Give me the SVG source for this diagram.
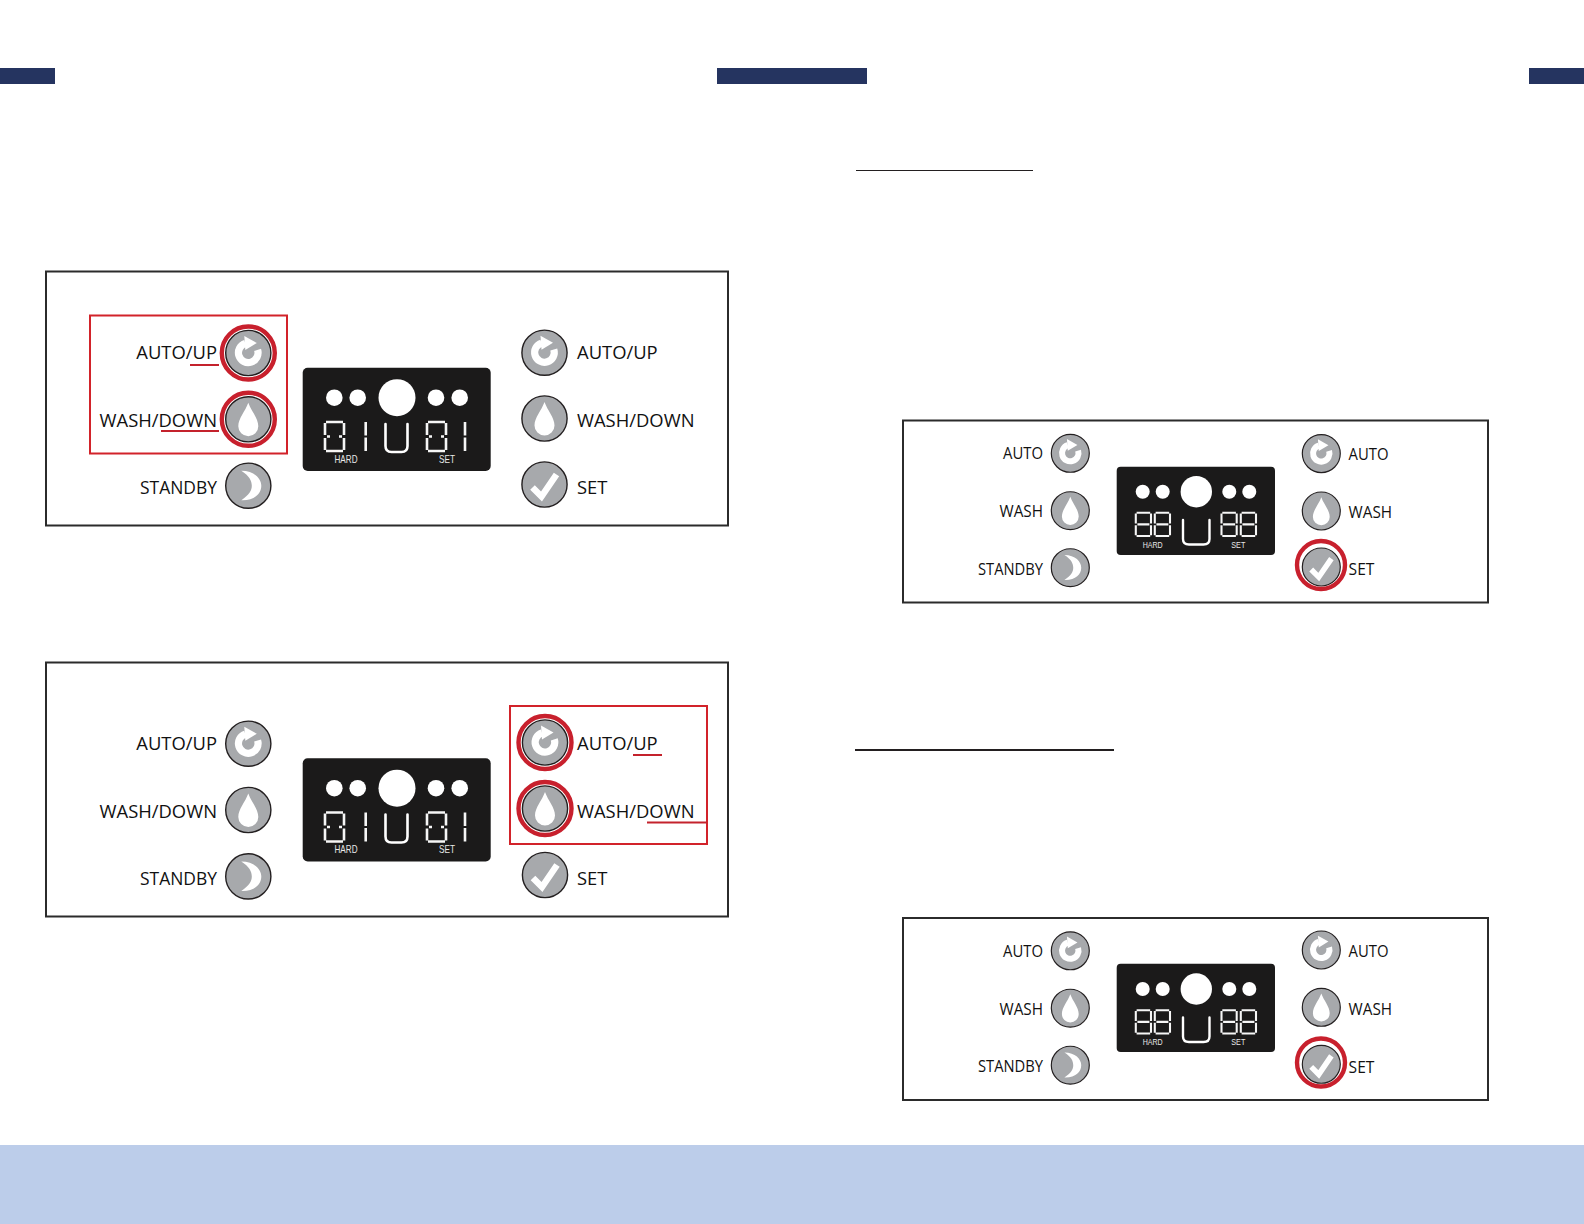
<svg xmlns="http://www.w3.org/2000/svg" width="1584" height="1224" viewBox="0 0 1584 1224">
<style>
.bar{fill:#253460}
.frame{fill:none;stroke:#2b2b2b;stroke-width:2}
.hl{fill:none;stroke:#d2232a;stroke-width:2}
.ul{stroke:#c4222c;stroke-width:2}
.ring{fill:none;stroke:#c8202d;stroke-width:4.4}
.rule{stroke:#231f20}
.disp{fill:#1b1a1a}
.dot{fill:#fff}
.u{fill:none;stroke:#fff;stroke-linecap:round;stroke-linejoin:round}
.lg{font-family:"Open Sans","Liberation Sans",sans-serif;font-size:18.4px;fill:#111}
.sm{font-family:"Open Sans","Liberation Sans",sans-serif;font-size:15.6px;fill:#111}
.tiny{font-family:"Liberation Sans","Open Sans",sans-serif;fill:#e8e8e8;text-anchor:middle}
.e{text-anchor:end}
.seg{stroke:#f6f6f6;stroke-width:2.6;fill:none}
.face{fill:#a7a9ac;stroke:#231f20;stroke-width:1.4}
.glyph{fill:#fff}
.gl{fill:none;stroke:#fff}
</style>
<defs>
<g id="i-auto"><circle class="face" r="22.6"/><path class="gl" stroke-width="7.2" d="M-3,-9.6 A9.8,9.8 0 1 0 9.3,-3.2"/><path class="glyph" d="M-4,-17 L8.5,-10 L-3,-3 Z"/></g>
<g id="i-wash"><circle class="face" r="22.6"/><path class="glyph" d="M0,-16.5 C3,-8 10,-1 10,7 A10,10 0 0 1 -10,7 C-10,-1 -3,-8 0,-16.5 Z"/></g>
<g id="i-moon"><circle class="face" r="22.6"/><path class="glyph" d="M-7,-15 C6,-15 13,-7 13,0 C13,8 6,15 -7,14.5 C1,9 3.5,5 3.5,0 C3.5,-5 1,-10 -7,-15 Z"/></g>
<g id="i-set"><circle class="face" r="22.6"/><path class="gl" stroke-width="6.5" d="M-12,3 L-3,12 L12,-10"/></g>
<g id="d0" class="seg"><path d="M2,1H19M2,30H19M1,2V14M1,17V29M20,2V14M20,17V29M3,15.5H6M15,15.5H18"/></g>
<g id="d1" class="seg"><path d="M0,1V14.5M0,16.5V30"/></g>
<g id="d8" class="seg"><path d="M2,1H19M2,30H19M1,2V14.5M1,16.5V29M20,2V14.5M20,16.5V29M3,15.5H18"/></g>
</defs>
<rect width="1584" height="1224" fill="#fff"/>
<rect id="band" y="1145" width="1584" height="79" fill="#bccdea"/>
<g id="bars"><rect class="bar" x="0" y="68" width="55" height="16"/><rect class="bar" x="717" y="68" width="150" height="16"/><rect class="bar" x="1529" y="68" width="55" height="16"/></g>
<g id="rules"><line class="rule" x1="856" y1="170.5" x2="1033" y2="170.5" stroke-width="1.2"/><line class="rule" x1="855" y1="750" x2="1114" y2="750" stroke-width="2"/></g>

<g id="panel-1">
<rect class="frame" x="46" y="271.5" width="682" height="254"/>
<rect class="hl" x="90" y="315.5" width="197" height="138"/>
<g id="p1-auto-l"><text class="lg e" x="217" y="359.3">AUTO/UP</text><use href="#i-auto" x="248.3" y="353"/><circle class="ring" cx="248.3" cy="353" r="26.5"/><line class="ul" x1="190" y1="365" x2="219" y2="365"/></g>
<g id="p1-wash-l"><text class="lg e" x="217" y="426.7">WASH/DOWN</text><use href="#i-wash" x="248.3" y="419.3"/><circle class="ring" cx="248.3" cy="419.3" r="26.5"/><line class="ul" x1="161" y1="431" x2="219" y2="431"/></g>
<g id="p1-standby"><text class="lg e" x="217" y="494" textLength="77" lengthAdjust="spacingAndGlyphs">STANDBY</text><use href="#i-moon" x="248.3" y="485.7"/></g>
<g id="p1-display"><rect class="disp" x="302.7" y="367.7" width="188" height="103.3" rx="5"/>
<circle class="dot" cx="334.3" cy="397.7" r="8.3"/><circle class="dot" cx="357.7" cy="397.7" r="8.3"/><circle class="dot" cx="397" cy="397.7" r="18.5"/><circle class="dot" cx="436" cy="397.7" r="8.3"/><circle class="dot" cx="459.7" cy="397.7" r="8.3"/>
<use href="#d0" x="324" y="421"/><use href="#d1" x="365.7" y="421"/><path class="u" stroke-width="2.6" d="M385.5,424V446Q385.5,452 391.5,452H401.5Q407.5,452 407.5,446V424"/><use href="#d0" x="426" y="421"/><use href="#d1" x="465" y="421"/>
<text class="tiny" x="346" y="462.5" font-size="11.5" textLength="23" lengthAdjust="spacingAndGlyphs">HARD</text><text class="tiny" x="447" y="462.5" font-size="11.5" textLength="16" lengthAdjust="spacingAndGlyphs">SET</text></g>
<g id="p1-auto-r"><use href="#i-auto" x="544.5" y="352.7"/><text class="lg" x="577" y="359.3">AUTO/UP</text></g>
<g id="p1-wash-r"><use href="#i-wash" x="544.5" y="418.5"/><text class="lg" x="577" y="427.3">WASH/DOWN</text></g>
<g id="p1-set"><use href="#i-set" x="544.5" y="484.5"/><text class="lg" x="577" y="493.7">SET</text></g>
</g>

<g id="panel-2">
<rect class="frame" x="46" y="662.5" width="682" height="254"/>
<rect class="hl" x="510" y="706" width="197" height="138"/>
<g id="p2-auto-l"><text class="lg e" x="217" y="749.8">AUTO/UP</text><use href="#i-auto" x="248.3" y="743.7"/></g>
<g id="p2-wash-l"><text class="lg e" x="217" y="818">WASH/DOWN</text><use href="#i-wash" x="248.3" y="810"/></g>
<g id="p2-standby"><text class="lg e" x="217" y="884.6" textLength="77" lengthAdjust="spacingAndGlyphs">STANDBY</text><use href="#i-moon" x="248.3" y="876.4"/></g>
<g id="p2-display"><rect class="disp" x="302.7" y="758.2" width="188" height="103.3" rx="5"/>
<circle class="dot" cx="334.3" cy="788.2" r="8.3"/><circle class="dot" cx="357.7" cy="788.2" r="8.3"/><circle class="dot" cx="397" cy="788.2" r="18.5"/><circle class="dot" cx="436" cy="788.2" r="8.3"/><circle class="dot" cx="459.7" cy="788.2" r="8.3"/>
<use href="#d0" x="324" y="811.5"/><use href="#d1" x="365.7" y="811.5"/><path class="u" stroke-width="2.6" d="M385.5,814.5V836.5Q385.5,842.5 391.5,842.5H401.5Q407.5,842.5 407.5,836.5V814.5"/><use href="#d0" x="426" y="811.5"/><use href="#d1" x="465" y="811.5"/>
<text class="tiny" x="346" y="853" font-size="11.5" textLength="23" lengthAdjust="spacingAndGlyphs">HARD</text><text class="tiny" x="447" y="853" font-size="11.5" textLength="16" lengthAdjust="spacingAndGlyphs">SET</text></g>
<g id="p2-auto-r"><use href="#i-auto" x="545" y="742.5"/><circle class="ring" cx="545" cy="742.5" r="26.5"/><text class="lg" x="577" y="750">AUTO/UP</text><line class="ul" x1="633" y1="755" x2="662" y2="755"/></g>
<g id="p2-wash-r"><use href="#i-wash" x="545" y="808.5"/><circle class="ring" cx="545" cy="808.5" r="26.5"/><text class="lg" x="577" y="818.3">WASH/DOWN</text><line class="ul" x1="647" y1="822.5" x2="707" y2="822.5"/></g>
<g id="p2-set"><use href="#i-set" x="545" y="875"/><text class="lg" x="577" y="885">SET</text></g>
</g>

<g id="panel-3">
<rect class="frame" x="903" y="420.5" width="585" height="182"/>
<g id="p3-auto-l"><text class="sm e" x="1043" y="459.3" textLength="40" lengthAdjust="spacingAndGlyphs">AUTO</text><use href="#i-auto" transform="translate(1070.3 453.3) scale(.84)"/></g>
<g id="p3-wash-l"><text class="sm e" x="1043" y="517" textLength="43.5" lengthAdjust="spacingAndGlyphs">WASH</text><use href="#i-wash" transform="translate(1070.3 510.7) scale(.84)"/></g>
<g id="p3-standby"><text class="sm e" x="1043" y="574.7" textLength="65" lengthAdjust="spacingAndGlyphs">STANDBY</text><use href="#i-moon" transform="translate(1070.3 567.7) scale(.84)"/></g>
<g id="p3-display"><rect class="disp" x="1116.7" y="466.7" width="158.3" height="88.3" rx="4"/>
<circle class="dot" cx="1142.7" cy="491.7" r="7"/><circle class="dot" cx="1162.7" cy="491.7" r="7"/><circle class="dot" cx="1196.3" cy="491.7" r="15.7"/><circle class="dot" cx="1229.3" cy="491.7" r="7"/><circle class="dot" cx="1249.3" cy="491.7" r="7"/>
<use href="#d8" transform="translate(1135 512) scale(.8)"/><use href="#d8" transform="translate(1154 512) scale(.8)"/><path class="u" stroke-width="2.4" d="M1183,520V539Q1183,544.5 1189,544.5H1203.5Q1209.5,544.5 1209.5,539V520"/><use href="#d8" transform="translate(1220.7 512) scale(.8)"/><use href="#d8" transform="translate(1240 512) scale(.8)"/>
<text class="tiny" x="1152.7" y="547.7" font-size="9.5" textLength="20" lengthAdjust="spacingAndGlyphs">HARD</text><text class="tiny" x="1238.3" y="547.7" font-size="9.5" textLength="14" lengthAdjust="spacingAndGlyphs">SET</text></g>
<g id="p3-auto-r"><use href="#i-auto" transform="translate(1321.3 453.6) scale(.84)"/><text class="sm" x="1348.6" y="459.5" textLength="40" lengthAdjust="spacingAndGlyphs">AUTO</text></g>
<g id="p3-wash-r"><use href="#i-wash" transform="translate(1321.3 511) scale(.84)"/><text class="sm" x="1348.6" y="517.5" textLength="43.5" lengthAdjust="spacingAndGlyphs">WASH</text></g>
<g id="p3-set"><use href="#i-set" transform="translate(1321.3 567) scale(.84)"/><circle class="ring" cx="1321" cy="565" r="24"/><text class="sm" x="1348.6" y="575">SET</text></g>
</g>

<g id="panel-4">
<rect class="frame" x="903" y="918" width="585" height="182"/>
<g id="p4-auto-l"><text class="sm e" x="1043" y="956.8" textLength="40" lengthAdjust="spacingAndGlyphs">AUTO</text><use href="#i-auto" transform="translate(1070.3 950.8) scale(.84)"/></g>
<g id="p4-wash-l"><text class="sm e" x="1043" y="1014.7" textLength="43.5" lengthAdjust="spacingAndGlyphs">WASH</text><use href="#i-wash" transform="translate(1070.3 1008.2) scale(.84)"/></g>
<g id="p4-standby"><text class="sm e" x="1043" y="1072.2" textLength="65" lengthAdjust="spacingAndGlyphs">STANDBY</text><use href="#i-moon" transform="translate(1070.3 1065.2) scale(.84)"/></g>
<g id="p4-display"><rect class="disp" x="1116.7" y="963.7" width="158.3" height="88.3" rx="4"/>
<circle class="dot" cx="1142.7" cy="989" r="7"/><circle class="dot" cx="1162.7" cy="989" r="7"/><circle class="dot" cx="1196.3" cy="989" r="15.7"/><circle class="dot" cx="1229.3" cy="989" r="7"/><circle class="dot" cx="1249.3" cy="989" r="7"/>
<use href="#d8" transform="translate(1135 1009.5) scale(.8)"/><use href="#d8" transform="translate(1154 1009.5) scale(.8)"/><path class="u" stroke-width="2.4" d="M1183,1017.5V1036.5Q1183,1042 1189,1042H1203.5Q1209.5,1042 1209.5,1036.5V1017.5"/><use href="#d8" transform="translate(1220.7 1009.5) scale(.8)"/><use href="#d8" transform="translate(1240 1009.5) scale(.8)"/>
<text class="tiny" x="1152.7" y="1045.2" font-size="9.5" textLength="20" lengthAdjust="spacingAndGlyphs">HARD</text><text class="tiny" x="1238.3" y="1045.2" font-size="9.5" textLength="14" lengthAdjust="spacingAndGlyphs">SET</text></g>
<g id="p4-auto-r"><use href="#i-auto" transform="translate(1321.3 950) scale(.84)"/><text class="sm" x="1348.6" y="957" textLength="40" lengthAdjust="spacingAndGlyphs">AUTO</text></g>
<g id="p4-wash-r"><use href="#i-wash" transform="translate(1321.3 1007.3) scale(.84)"/><text class="sm" x="1348.6" y="1015" textLength="43.5" lengthAdjust="spacingAndGlyphs">WASH</text></g>
<g id="p4-set"><use href="#i-set" transform="translate(1321.3 1064.3) scale(.84)"/><circle class="ring" cx="1321" cy="1062.5" r="24"/><text class="sm" x="1348.6" y="1072.5">SET</text></g>
</g>
</svg>
